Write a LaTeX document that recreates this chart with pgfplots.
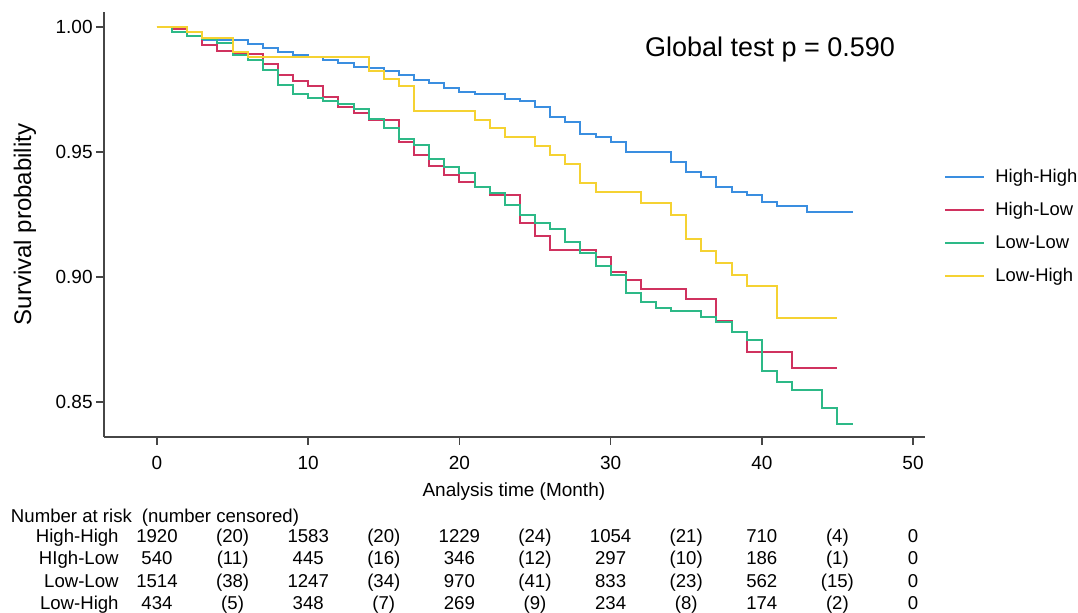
\documentclass[border=0pt]{standalone}
\usepackage{fontspec}
\setmainfont{Liberation Sans}
\usepackage{pgfplots}
\pgfplotsset{compat=1.18}

\definecolor{cHH}{RGB}{58,142,224}
\definecolor{cHL}{RGB}{208,50,95}
\definecolor{cLL}{RGB}{45,185,135}
\definecolor{cLH}{RGB}{245,210,50}
\definecolor{axgray}{RGB}{70,70,70}

\newcommand\fs[1]{\fontsize{#1}{#1}\selectfont}

\begin{document}
\begin{tikzpicture}
\useasboundingbox (-52pt,-88pt) rectangle (487pt,218.5pt);
\begin{axis}[
    at={(0,0)}, anchor=south west,
    scale only axis,
    width=410.5pt, height=212.5pt,
    xmin=-3.505, xmax=50.79,
    ymin=0.836, ymax=1.006,
    axis lines*=left,
    axis line style={draw=axgray, line width=0.75pt},
    tick style={draw=axgray, line width=0.75pt},
    tick align=outside,
    major tick length=4pt,
    xtick={0,10,20,30,40,50},
    ytick={0.85,0.90,0.95,1.00},
    /pgf/number format/assume math mode=true,
    ticklabel style={font=\fs{9.5}},
    xticklabel style={inner sep=0pt, yshift=-5.5pt},
    yticklabel style={inner sep=0pt, xshift=-1.5pt,
        /pgf/number format/.cd, fixed, fixed zerofill, precision=2},
    clip=false,
    legend style={at={(axis cs:52.05,0.9436)}, anchor=north west,
        draw=none, fill=none, inner sep=0pt, font=\fs{9.2},
        row sep=7.5pt, column sep=5pt,
        nodes={inner sep=0pt, text height=7pt, text depth=2pt}},
    legend cell align=left,
    legend image code/.code={\draw[#1] (0pt,0pt) -- (19.5pt,0pt);},
    every axis plot/.append style={line width=1pt, const plot, mark=none},
]
% High-High
\addplot[cHH] coordinates {(0,1.000) (1,0.9993) (2,0.9980) (3,0.9948) (6,0.9932)
 (7,0.9916) (8,0.9900) (9,0.9888) (10,0.9880) (11,0.9869) (12,0.9856) (13,0.9841)
 (14,0.9835) (15,0.9822) (16,0.9806) (17,0.9787) (18,0.9776) (19,0.9755) (20,0.9739)
 (21,0.9730) (23,0.9712) (24,0.9703) (25,0.9681) (26,0.9641) (27,0.9618) (28,0.9570)
 (29,0.9560) (30,0.9540) (31,0.9501) (34,0.9458) (35,0.9421) (36,0.9398) (37,0.9361)
 (38,0.9340) (39,0.9328) (40,0.9301) (41,0.9285) (43,0.9261) (46,0.9261)};
\addlegendentry{High-High}
% High-Low
\addplot[cHL] coordinates {(0,1.000) (1,0.9990) (2,0.9981) (3,0.9928) (4,0.9905)
 (5,0.9890) (7,0.9850) (8,0.9806) (9,0.9785) (10,0.9765) (11,0.9718) (12,0.9680)
 (13,0.9655) (14,0.9628) (16,0.9539) (17,0.9488) (18,0.9443) (19,0.9408) (20,0.9380)
 (21,0.9358) (22,0.9327) (24,0.9217) (25,0.9163) (26,0.9108) (29,0.9080) (30,0.9019)
 (31,0.8986) (32,0.8951) (35,0.8911) (37,0.8824) (38,0.8781) (39,0.8701) (42,0.8635)
 (45,0.8635)};
\addlegendentry{High-Low}
% Low-Low
\addplot[cLL] coordinates {(0,1.000) (1,0.9980) (2,0.9963) (3,0.9950) (4,0.9935)
 (5,0.9888) (6,0.9866) (7,0.9828) (8,0.9768) (9,0.9731) (10,0.9715) (11,0.9702)
 (12,0.9690) (13,0.9672) (14,0.9633) (15,0.9597) (16,0.9550) (17,0.9528) (18,0.9470)
 (19,0.9439) (20,0.9415) (21,0.9358) (22,0.9335) (23,0.9288) (24,0.9248) (25,0.9217)
 (26,0.9190) (27,0.9141) (28,0.9095) (29,0.9042) (30,0.9008) (31,0.8935) (32,0.8899)
 (33,0.8875) (34,0.8863) (36,0.8840) (37,0.8821) (38,0.8781) (39,0.8748) (40,0.8625)
 (41,0.8581) (42,0.8548) (44,0.8475) (45,0.8411) (46,0.8411)};
\addlegendentry{Low-Low}
% Low-High
\addplot[cLH] coordinates {(0,1.000) (2,0.9979) (3,0.9955) (5,0.9901) (6,0.9881)
 (14,0.9825) (15,0.9791) (16,0.9764) (17,0.9665) (21,0.9629) (22,0.9595) (23,0.9560)
 (25,0.9524) (26,0.9488) (27,0.9452) (28,0.9376) (29,0.9338) (32,0.9294) (34,0.9246)
 (35,0.9151) (36,0.9104) (37,0.9055) (38,0.9008) (39,0.8964) (41,0.8835) (45,0.8835)};
\addlegendentry{Low-High}

\node[font=\fs{13.5}] at (axis cs:40.54,0.9908) {Global test p = 0.590};
\node[rotate=90, font=\fs{12}] at (axis cs:-8.73,0.921) {Survival probability};
\node[font=\fs{9.5}] at (axis cs:23.6,0.814) {Analysis time (Month)};
\end{axis}

% number at risk table
\begin{scope}[font=\fs{9.3}]
\node[anchor=base west, inner sep=0pt] at (-46.7pt,-42.8pt) {Number at risk\hspace{5pt}(number censored)};
\foreach \y/\lab/\vals in {
  -52.8/High-High/{1920,(20),1583,(20),1229,(24),1054,(21),710,(4),0},
  -64.0/HIgh-Low/{540,(11),445,(16),346,(12),297,(10),186,(1),0},
  -75.3/Low-Low/{1514,(38),1247,(34),970,(41),833,(23),562,(15),0},
  -86.5/Low-High/{434,(5),348,(7),269,(9),234,(8),174,(2),0}} {
  \node[anchor=base east, inner sep=0pt] at (7.5pt,\y pt) {\lab};
  \foreach \v [count=\i from 0] in \vals {
    \node[anchor=base, inner sep=0pt] at ({26.5pt+37.8pt*\i},\y pt) {\v};
  }
}
\end{scope}
\end{tikzpicture}
\end{document}
